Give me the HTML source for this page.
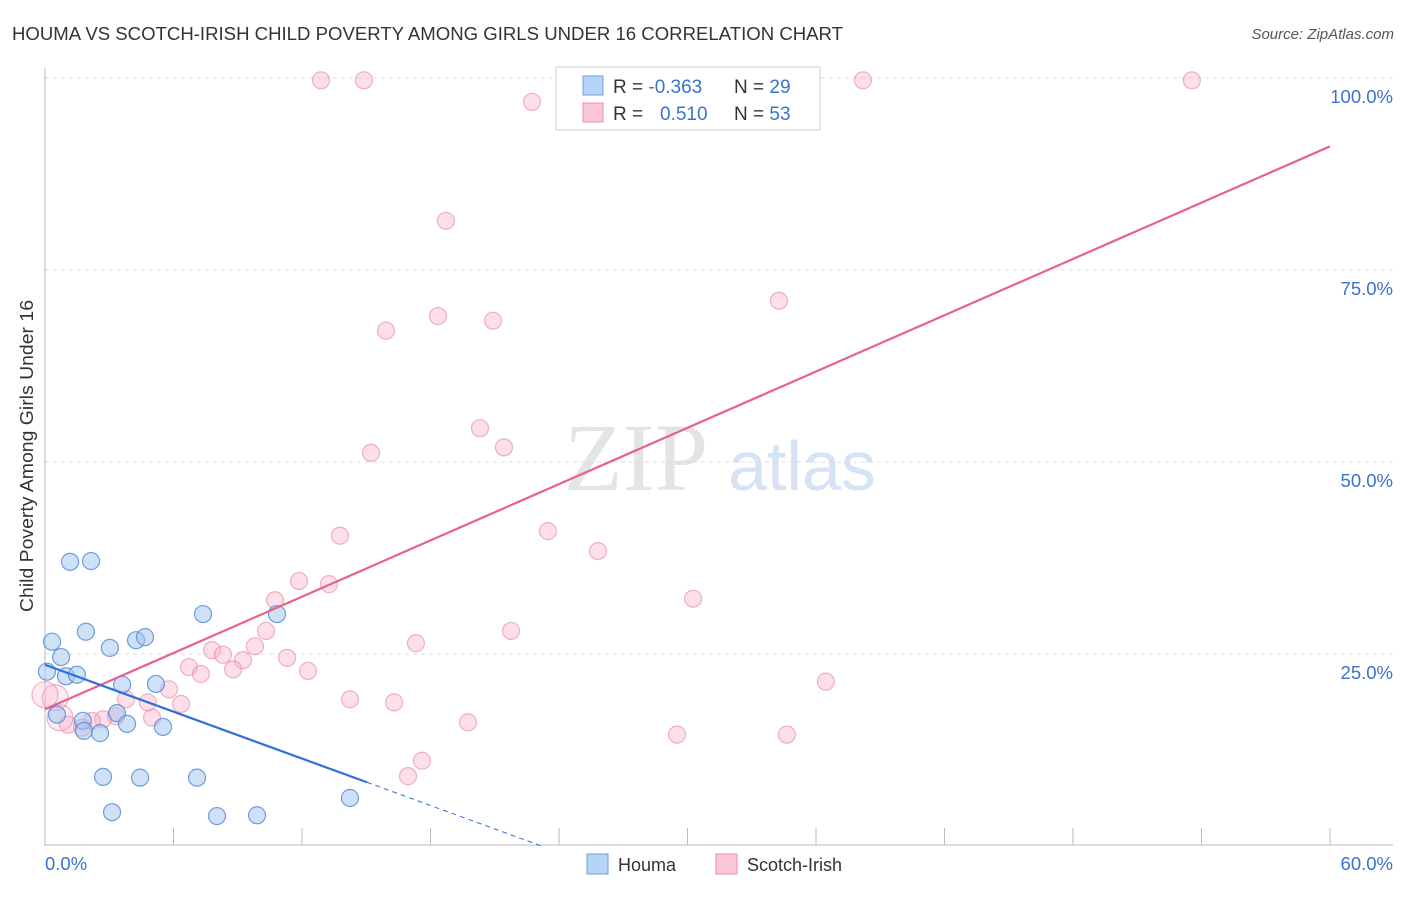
<!DOCTYPE html>
<html><head><meta charset="utf-8"><style>
body{margin:0;background:#fff;font-family:"Liberation Sans",sans-serif}
</style></head><body>
<svg width="1406" height="892" viewBox="0 0 1406 892" xmlns="http://www.w3.org/2000/svg">
<text x="12" y="40" font-size="18" fill="#333" textLength="831" lengthAdjust="spacingAndGlyphs">HOUMA VS SCOTCH-IRISH CHILD POVERTY AMONG GIRLS UNDER 16 CORRELATION CHART</text>
<text x="1394" y="39" font-size="15" fill="#555" font-style="italic" text-anchor="end">Source: ZipAtlas.com</text>
<text x="636" y="490" font-size="96" fill="#e4e4e4" font-family="Liberation Serif,serif" text-anchor="middle">ZIP</text>
<text x="802" y="490" font-size="70" fill="#d5e3f5" text-anchor="middle">atlas</text>
<g id="grid"></g><g id="axes"></g><g id="pts"></g><g id="lines"></g>
<text x="33" y="456" font-size="18" fill="#333" text-anchor="middle" textLength="312" lengthAdjust="spacingAndGlyphs" transform="rotate(-90 33 456)">Child Poverty Among Girls Under 16</text>
<g>
<rect x="556" y="67" width="264" height="63" fill="#fff" stroke="#ccc"/>
<rect x="583" y="76" width="20" height="19" fill="#b7d3f5" stroke="#6f9fdc"/>
<rect x="583" y="103" width="20" height="19" fill="#fbc6d6" stroke="#e890ab"/>
<text x="613" y="93" font-size="19" fill="#333">R = <tspan fill="#3a72d0">-0.363</tspan></text>
<text x="734" y="93" font-size="19" fill="#333">N = <tspan fill="#3a72d0">29</tspan></text>
<text x="613" y="120" font-size="19" fill="#333">R = <tspan fill="#3a72d0" x="660">0.510</tspan></text>
<text x="734" y="120" font-size="19" fill="#333">N = <tspan fill="#3a72d0">53</tspan></text>
</g>
<g>
<rect x="587" y="854" width="21" height="20" fill="#b7d3f5" stroke="#6f9fdc"/>
<text x="618" y="871" font-size="18" fill="#333">Houma</text>
<rect x="716" y="854" width="21" height="20" fill="#fbc6d6" stroke="#e890ab"/>
<text x="747" y="871" font-size="18" fill="#333">Scotch-Irish</text>
</g>
</svg>
<script>
const xTicks=[0,6,12,18,24,30,36,42,48,54,60];
const yTicks=[25,50,75,100];
const houmaX=[0.09,0.33,0.75,1.17,2.15,0.98,1.49,1.91,0.56,1.77,1.82,2.57,3.03,3.6,3.36,3.83,4.25,4.67,5.18,5.51,2.71,4.44,7.1,3.13,8.03,9.9,7.38,10.83,14.24];
const houmaY=[22.7,26.6,24.6,37.0,37.1,22.1,22.3,27.9,17.1,16.3,15.0,14.7,25.8,21.0,17.3,15.9,26.8,27.2,21.1,15.5,9.0,8.9,8.9,4.4,3.9,4.0,30.2,30.2,6.25];
const scotX=[12.89,14.89,22.74,38.19,53.55,18.72,15.92,18.35,20.92,34.27,20.31,21.43,15.22,13.77,23.48,25.82,11.86,13.26,10.74,30.26,10.32,21.76,9.8,17.32,7.8,8.31,9.24,11.3,6.72,7.28,8.78,12.28,5.79,6.35,14.24,16.3,36.46,5.0,4.8,3.78,3.31,2.71,2.19,1.73,1.07,0.47,0.7,19.75,29.51,34.64,17.6,16.95,0];
const scotY=[99.7,99.7,96.9,99.7,99.7,81.4,67.1,69.0,68.4,71.0,54.4,51.9,51.2,40.4,41.0,38.4,34.5,34.1,32.0,32.2,28.0,28.0,26.0,26.4,25.5,24.9,24.2,24.5,23.3,22.4,23.0,22.8,20.4,18.5,19.1,18.7,21.4,16.7,18.7,19.1,16.9,16.5,16.3,15.4,15.8,19.3,16.7,16.1,14.5,14.5,11.1,9.1,19.7];
const scotBig=[0,0,0,0,0,0,0,0,0,0,0,0,0,0,0,0,0,0,0,0,0,0,0,0,0,0,0,0,0,0,0,0,0,0,0,0,0,0,0,0,0,0,0,0,0,1,1,0,0,0,0,0,1];
const blueLine=[23.6,8.3,15.03];
const pinkLine=[17.8,91.1];
const NS='http://www.w3.org/2000/svg';
const X=v=>45+v/60*1285, Y=v=>846-v/100*768;
function mk(t,a,p){const e=document.createElementNS(NS,t);for(const k in a)e.setAttribute(k,a[k]);document.getElementById(p).appendChild(e);return e;}
yTicks.forEach(t=>{
 let l=mk('line',{x1:45,x2:1393,y1:Y(t),y2:Y(t),stroke:'#ddd','stroke-dasharray':'4,4'},'grid');
 
 
 let tx=mk('text',{x:1393,y:Y(t)+25,'font-size':18.5,fill:'#3a72d0','text-anchor':'end'},'grid');tx.textContent=t.toFixed(1)+'%';
 
 
});
let ax=mk('line',{x1:45,x2:45,y1:68,y2:846,stroke:'#bbb'},'axes');


let bx=mk('line',{x1:45,x2:1393,y1:845,y2:845,stroke:'#bbb'},'axes');


xTicks.forEach(t=>{let l=mk('line',{x1:X(t),x2:X(t),y1:828,y2:845,stroke:'#bbb'},'axes');
 
 });
[[0,'0.0%',45,'start'],[60,'60.0%',1393,'end']].forEach(a=>{let t=mk('text',{x:a[2],y:870,'font-size':18.5,fill:'#3a72d0','text-anchor':a[3]},'axes');t.textContent=a[1];
 
 });
scotX.forEach((v,i)=>{let c=mk('circle',{cx:X(v),cy:Y(scotY[i]),r:scotBig[i]?13:8.5,fill:scotBig[i]?'rgba(248,175,198,0.25)':'rgba(248,175,198,0.4)',stroke:'rgba(230,130,160,0.6)','stroke-width':1.2},'pts');
 
 });
houmaX.forEach((v,i)=>{let c=mk('circle',{cx:X(v),cy:Y(houmaY[i]),r:8.5,fill:'rgba(160,196,240,0.5)',stroke:'rgba(80,135,215,0.8)','stroke-width':1.2},'pts');
 
 });
let pl=mk('line',{x1:X(0),y1:Y(pinkLine[0]),x2:X(60),y2:Y(pinkLine[1]),stroke:'#e8608e','stroke-width':2.2},'lines');


const bs=(blueLine[1]-blueLine[0])/blueLine[2];
let bl=mk('line',{x1:X(0),y1:Y(blueLine[0]),x2:X(blueLine[2]),y2:Y(blueLine[1]),stroke:'#2f6fd6','stroke-width':2.2},'lines');


const x0=-blueLine[0]/bs;
let bd=mk('line',{x1:X(blueLine[2]),y1:Y(blueLine[1]),x2:X(x0),y2:Y(0),stroke:'#2f6fd6','stroke-width':1,'stroke-dasharray':'5,4'},'lines');


</script>
</body></html>
